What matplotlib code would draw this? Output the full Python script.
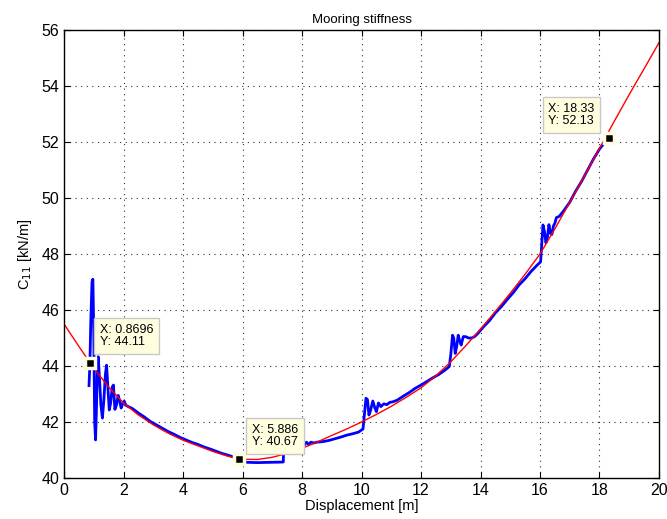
import numpy as np
import matplotlib.pyplot as plt

plt.rcParams['font.family'] = ['Liberation Sans', 'DejaVu Sans']

# fitted curve (red)
fit_x = [0.0, 0.5, 1.0, 1.5, 2.0, 2.5, 3.0, 3.5, 4.0, 4.5, 5.0, 5.5, 6.0, 6.5,
         7.0, 7.5, 8.0, 8.5, 9.0, 9.5, 10.0, 10.5, 11.0, 11.5, 12.0, 12.5, 13.0,
         13.5, 14.0, 14.5, 15.0, 15.5, 16.0, 16.5, 17.0, 17.5, 18.0, 18.5, 19.0,
         19.5, 20.0]
fit_y = [45.50, 44.70, 43.92, 43.25, 42.68, 42.25, 41.90, 41.60, 41.35, 41.15,
         40.95, 40.78, 40.67, 40.66, 40.74, 40.88, 41.06, 41.28, 41.52, 41.75,
         42.00, 42.27, 42.56, 42.88, 43.22, 43.65, 44.15, 44.72, 45.32, 45.95,
         46.60, 47.28, 48.00, 48.90, 49.85, 50.80, 51.78, 52.75, 53.70, 54.62,
         55.55]

# measured stiffness (blue), nan = gap in the record
meas_x = [0.84, 0.87, 0.90, 0.94, 0.97, 1.00, 1.03, 1.06, 1.09, 1.12, 1.15, 1.19,
          1.24, 1.29, 1.34, 1.39, 1.43, 1.47, 1.52, 1.57, 1.62, 1.66, 1.71, 1.76,
          1.82, 1.87, 1.92, 1.97, 2.02, 2.08, 2.16, 2.3, 2.5, 2.7, 2.9, 3.1, 3.3,
          3.5, 3.7, 3.9, 4.1, 4.3, 4.5, 4.7, 4.9, 5.1, 5.3, 5.5, 5.7, 5.886, 6.0,
          6.14, 6.5, 7.0, 7.37, 7.38, np.nan, 7.6, 7.63, np.nan,
          7.98, 8.02, 8.08, 8.15, 8.22, 8.3, 8.4, 8.5, 8.7, 8.9, 9.1, 9.3, 9.5,
          9.7, 9.9, 10.05, 10.1, 10.15, 10.2, 10.25, 10.3, 10.38, 10.45, 10.5,
          10.57, 10.65, 10.75, 10.85, 10.95, 11.05, 11.2, 11.4, 11.6, 11.8, 12.0,
          12.2, 12.4, 12.6, 12.8, 12.95, 13.0, 13.06, 13.1, 13.15, 13.2, 13.25,
          13.3, 13.35, 13.42, 13.5, 13.6, 13.7, 13.8, 13.9, 14.1, 14.3, 14.5,
          14.7, 14.9, 15.1, 15.3, 15.5, 15.7, 15.9, 16.02, 16.06, 16.1, 16.15,
          16.2, 16.25, 16.3, 16.35, 16.4, 16.45, 16.5, 16.55, 16.65, 16.8, 17.0,
          17.2, 17.4, 17.6, 17.8, 18.0, 18.15, 18.33]
meas_y = [43.3, 44.11, 45.6, 47.0, 47.1, 45.2, 42.0, 41.36, 42.5, 43.9, 44.33, 43.6,
          42.6, 42.14, 42.8, 43.7, 44.03, 43.3, 42.43, 42.7, 43.25, 43.32, 42.45, 42.6,
          42.95, 42.75, 42.5, 42.65, 42.75, 42.6, 42.55, 42.48, 42.32, 42.18, 42.02,
          41.9, 41.78, 41.66, 41.56, 41.45, 41.36, 41.27, 41.2, 41.11, 41.04, 40.96,
          40.88, 40.82, 40.75, 40.67, 40.62, 40.56, 40.55, 40.56, 40.57, 40.9,
          np.nan, 40.88, 40.9, np.nan,
          41.2, 41.32, 41.18, 41.28, 41.2, 41.28, 41.25, 41.28, 41.3, 41.34, 41.4,
          41.46, 41.53, 41.58, 41.64, 41.75, 42.3, 42.85, 42.8, 42.25, 42.4, 42.75,
          42.5, 42.37, 42.68, 42.55, 42.65, 42.62, 42.7, 42.72, 42.78, 42.92, 43.05,
          43.2, 43.32, 43.45, 43.58, 43.7, 43.85, 43.98, 44.4, 45.1, 45.0, 44.45,
          44.7, 45.1, 44.9, 44.75, 45.05, 45.05, 45.0, 45.0, 45.05, 45.15, 45.4,
          45.62, 45.9, 46.12, 46.38, 46.62, 46.9, 47.12, 47.38, 47.6, 47.72, 48.4,
          49.04, 48.8, 48.4, 48.6, 49.05, 48.75, 48.7, 49.0, 49.1, 49.3, 49.35,
          49.55, 49.85, 50.25, 50.6, 51.0, 51.4, 51.75, 51.95, 52.13]

# data tips
tip_x = [0.8696, 5.886, 18.33]
tip_y = [44.11, 40.67, 52.13]
tip_labels = ['X: 0.8696\nY: 44.11', 'X: 5.886\nY: 40.67', 'X: 18.33\nY: 52.13']

fig = plt.figure(figsize=(6.67, 5.19), dpi=100)
ax = fig.add_axes([0.096, 0.079, 0.892, 0.863])

ax.plot(meas_x, meas_y, color='#0000ff', lw=2.0)
ax.plot(fit_x, fit_y, color='#ff0000', lw=1.0)

offsets = [(7, 10.5), (9, 8), (-44, 8)]
for x, y, lab, off in zip(tip_x, tip_y, tip_labels, offsets):
    ax.plot(x, y, 's', color='black', ms=7.5, mec='#ffffe0', mew=2.5, zorder=5)
    ax.annotate(lab, (x, y), xytext=off, textcoords='offset points',
                fontsize=9, va='bottom', ha='left', zorder=6, linespacing=1.05,
                bbox=dict(boxstyle='square,pad=0.45', fc='#ffffe0', ec='#c8c8c8', lw=1))

ax.set_xlim(0, 20)
ax.set_ylim(40, 56)
ax.set_xticks(np.arange(0, 21, 2))
ax.set_yticks(np.arange(40, 57, 2))
ax.grid(True, color='#303030', ls=(0, (1, 4)), lw=0.8)
ax.tick_params(direction='in', top=True, right=True, labelsize=11.5, length=4)
for s in ax.spines.values():
    s.set_linewidth(1.0)

ax.set_title('Mooring stiffness', fontsize=9.5, pad=5)
ax.set_xlabel('Displacement [m]', fontsize=10.5, labelpad=1)
ax.set_ylabel('C$_{11}$ [kN/m]', fontsize=10.5, labelpad=5)

fig.savefig('out.png', dpi=100)
